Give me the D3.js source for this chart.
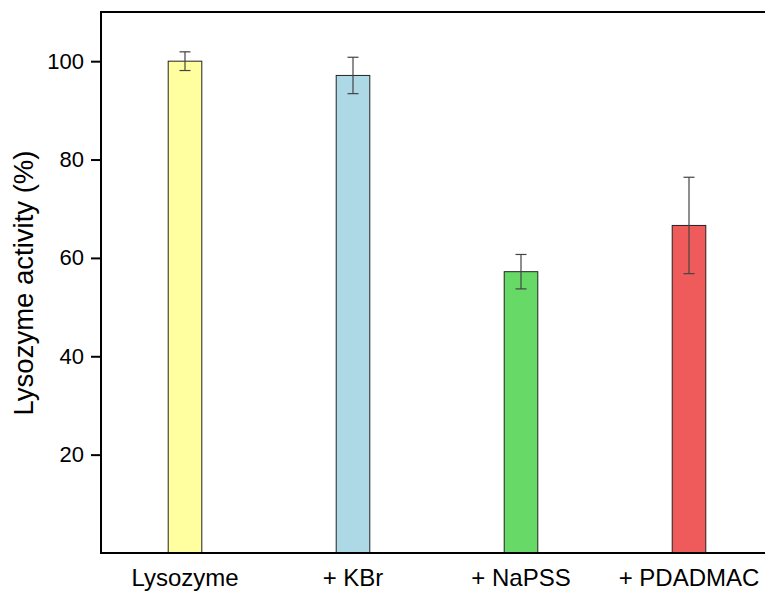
<!DOCTYPE html>
<html>
<head>
<meta charset="utf-8">
<script src="https://cdn.jsdelivr.net/npm/d3@7"></script>
<style>
  body { margin: 0; background: #fff; }
  text { font-family: "Liberation Sans", Arial, sans-serif; fill: #000; }
</style>
</head>
<body>
<div id="chart"></div>
<script>
const categories = ["Lysozyme", "+ KBr", "+ NaPSS", "+ PDADMAC"];
const activity = [100, 97.1, 57.2, 66.6];
const errors = [1.9, 3.7, 3.5, 9.8];
const barColors = ["#ffffa0", "#add8e6", "#66d966", "#ef5b5b"];
const yTicks = [20, 40, 60, 80, 100];

const width = 765, height = 592;
const margin = {top: 12, right: -8, bottom: 39, left: 101};

const svg = d3.select("#chart").append("svg")
  .attr("width", width)
  .attr("height", height);

const x = d3.scaleBand()
  .domain(categories)
  .range([margin.left, width - margin.right])
  .paddingInner(0.8)
  .paddingOuter(0.4);

const y = d3.scaleLinear()
  .domain([0, 110])
  .range([height - margin.bottom, margin.top]);

const data = categories.map((c, i) => ({name: c, value: activity[i], err: errors[i], color: barColors[i]}));

// bars
svg.append("g")
  .selectAll("rect")
  .data(data)
  .join("rect")
    .attr("x", d => x(d.name))
    .attr("y", d => y(d.value))
    .attr("width", x.bandwidth())
    .attr("height", d => y(0) - y(d.value))
    .attr("fill", d => d.color)
    .attr("stroke", "#222")
    .attr("stroke-width", 1);

// error bars
const eb = svg.append("g")
  .attr("stroke", "#444")
  .attr("stroke-width", 1.2)
  .selectAll("g")
  .data(data)
  .join("g")
    .attr("transform", d => `translate(${x(d.name) + x.bandwidth() / 2},0)`);
eb.append("line")
  .attr("y1", d => y(d.value + d.err))
  .attr("y2", d => y(d.value - d.err));
eb.append("line")
  .attr("x1", -5.5).attr("x2", 5.5)
  .attr("y1", d => y(d.value + d.err))
  .attr("y2", d => y(d.value + d.err));
eb.append("line")
  .attr("x1", -5.5).attr("x2", 5.5)
  .attr("y1", d => y(d.value - d.err))
  .attr("y2", d => y(d.value - d.err));

// y axis
const yAxis = svg.append("g")
  .attr("transform", `translate(${margin.left},0)`)
  .call(d3.axisLeft(y).tickValues(yTicks).tickSize(10).tickPadding(7));
yAxis.select(".domain").remove();
yAxis.selectAll(".tick line").attr("stroke", "#000").attr("stroke-width", 2);
yAxis.selectAll(".tick text").attr("font-size", 22);

// x axis labels
const xAxis = svg.append("g")
  .attr("transform", `translate(0,${y(0)})`)
  .call(d3.axisBottom(x).tickSize(0));
xAxis.select(".domain").remove();
xAxis.selectAll(".tick text")
  .attr("font-size", 24)
  .attr("y", 33)
  .attr("dy", 0);

// frame: left, bottom, top
svg.append("path")
  .attr("d", `M${width},${margin.top}H${margin.left}V${y(0)}H${width}`)
  .attr("fill", "none")
  .attr("stroke", "#000")
  .attr("stroke-width", 2);

// y label
svg.append("text")
  .attr("transform", `translate(33,283) rotate(-90)`)
  .attr("text-anchor", "middle")
  .attr("font-size", 27.5)
  .text("Lysozyme activity (%)");
</script>
</body>
</html>
